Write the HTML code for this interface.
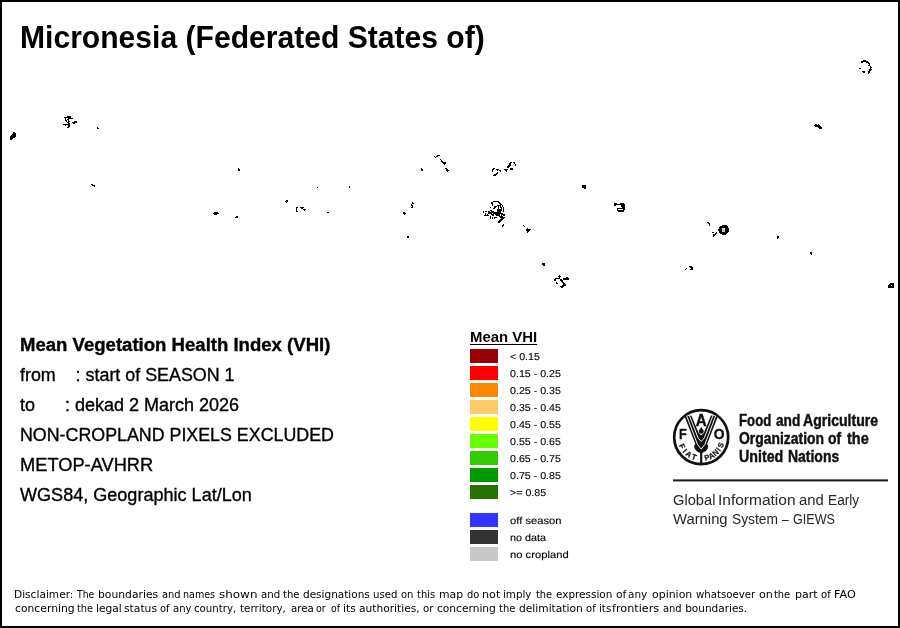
<!DOCTYPE html>
<html lang="en">
<head>
<meta charset="utf-8">
<title>Micronesia (Federated States of) - Mean VHI</title>
<style>
html,body{margin:0;padding:0;background:#fff;}
body{width:900px;height:628px;position:relative;overflow:hidden;font-family:"Liberation Sans",sans-serif;color:#000;}
#frame{position:absolute;left:0;top:0;width:896px;height:624px;border:2px solid #000;}
.t{position:absolute;white-space:nowrap;line-height:1;transform-origin:0 0;}
#title{left:20px;top:21.8px;font-size:31px;font-weight:bold;transform:scaleX(.9705);}
.info{left:20px;font-size:18px;-webkit-text-stroke:0.35px #000;}
#l1{top:335.5px;font-weight:bold;transform:scaleX(1.031);}
#l2{top:365.5px;transform:scaleX(.993);}
#l3{top:395.5px;}
#l4{top:425.5px;transform:scaleX(.99);}
#l5{top:455.5px;transform:scaleX(1.014);}
#l6{top:485.5px;transform:scaleX(1.003);}
#lgt{left:470px;top:330.4px;font-size:14px;font-weight:bold;text-decoration:underline;text-decoration-thickness:1px;text-underline-offset:1.6px;transform:scaleX(1.065);}
.sw{position:absolute;left:470px;width:28px;height:14px;}
.lb{left:509.5px;font-size:10px;transform:scaleX(1.065);margin-top:1.5px;text-rendering:geometricPrecision;-webkit-text-stroke:.12px #000;}
.lb.w{left:509.5px;transform:scaleX(1.122);}
.fao{font-size:16.4px;font-weight:bold;color:#111;-webkit-text-stroke:.45px #111;}
#rule{position:absolute;left:673px;top:479px;width:215px;height:2px;background:#1a1a1a;transform:translateY(.4px);}
.giews{font-size:15.2px;color:#262626;}
.dl{font-family:"DejaVu Sans","Liberation Sans",sans-serif;font-size:10.5px;}
.dl span{display:inline-block;white-space:pre;transform-origin:0 0;vertical-align:top;}
#map{position:absolute;left:0;top:0;}
#logo{position:absolute;left:668px;top:405px;}
</style>
</head>
<body>
<div id="frame"></div>
<svg id="map" width="900" height="320" viewBox="0 0 900 320" shape-rendering="crispEdges"><path fill="#000" d="M863 60h3v1h-3zM861 61h7v1h-7zM861 62h2v1h-2zM866 62h3v1h-3zM868 63h2v1h-2zM869 64h1v1h-1zM868 65h2v1h-2zM870 66h1v1h-1zM870 67h2v1h-2zM859 68h2v1h-2zM870 68h1v1h-1zM869 69h3v1h-3zM869 70h2v1h-2zM862 71h3v1h-3zM868 71h2v1h-2zM863 72h2v1h-2zM868 72h2v1h-2zM868 73h1v1h-1zM67 116h4v1h-4zM64 117h7v1h-7zM65 118h1v1h-1zM68 118h5v1h-5zM65 119h1v1h-1zM67 119h2v1h-2zM65 120h2v1h-2zM68 120h1v1h-1zM66 121h1v1h-1zM68 121h2v1h-2zM74 121h3v1h-3zM67 122h2v1h-2zM72 122h5v1h-5zM68 123h2v1h-2zM73 123h2v1h-2zM63 124h7v1h-7zM815 124h2v1h-2zM818 124h1v1h-1zM65 125h1v1h-1zM68 125h2v1h-2zM814 125h6v1h-6zM68 126h2v1h-2zM815 126h6v1h-6zM67 127h2v1h-2zM97 127h1v1h-1zM818 127h4v1h-4zM97 128h2v1h-2zM819 128h3v1h-3zM13 132h2v1h-2zM13 133h3v1h-3zM12 134h4v1h-4zM11 135h5v1h-5zM10 136h6v1h-6zM10 137h5v1h-5zM10 138h3v1h-3zM10 139h2v1h-2zM437 155h3v1h-3zM434 156h1v1h-1zM436 156h2v1h-2zM435 157h1v1h-1zM440 159h1v1h-1zM441 160h1v1h-1zM441 161h2v1h-2zM442 162h4v1h-4zM510 162h2v1h-2zM513 162h2v1h-2zM443 163h3v1h-3zM509 163h2v1h-2zM514 163h1v1h-1zM444 164h1v1h-1zM509 164h2v1h-2zM515 164h1v1h-1zM508 165h3v1h-3zM515 165h1v1h-1zM507 166h3v1h-3zM507 167h2v1h-2zM238 168h1v1h-1zM421 168h1v1h-1zM445 168h2v1h-2zM493 168h2v1h-2zM510 168h3v1h-3zM238 169h2v1h-2zM421 169h2v1h-2zM446 169h2v1h-2zM492 169h2v1h-2zM496 169h3v1h-3zM504 169h4v1h-4zM510 169h3v1h-3zM238 170h2v1h-2zM421 170h2v1h-2zM446 170h3v1h-3zM492 170h1v1h-1zM497 170h1v1h-1zM499 170h2v1h-2zM505 170h2v1h-2zM447 171h1v1h-1zM492 171h1v1h-1zM500 171h1v1h-1zM506 171h1v1h-1zM497 172h1v1h-1zM496 173h2v1h-2zM494 174h3v1h-3zM493 175h3v1h-3zM91 184h2v1h-2zM92 185h3v1h-3zM582 185h4v1h-4zM94 186h1v1h-1zM349 186h1v1h-1zM582 186h4v1h-4zM317 187h1v1h-1zM349 187h1v1h-1zM582 187h4v1h-4zM584 188h2v1h-2zM286 200h2v1h-2zM285 201h3v1h-3zM493 201h6v1h-6zM286 202h1v1h-1zM412 202h1v1h-1zM491 202h2v1h-2zM498 202h2v1h-2zM412 203h2v1h-2zM491 203h2v1h-2zM499 203h2v1h-2zM614 203h3v1h-3zM620 203h4v1h-4zM411 204h1v1h-1zM492 204h1v1h-1zM500 204h2v1h-2zM614 204h11v1h-11zM411 205h2v1h-2zM492 205h1v1h-1zM497 205h4v1h-4zM502 205h1v1h-1zM614 205h2v1h-2zM621 205h4v1h-4zM412 206h1v1h-1zM494 206h3v1h-3zM498 206h1v1h-1zM500 206h1v1h-1zM502 206h1v1h-1zM621 206h4v1h-4zM296 207h2v1h-2zM300 207h4v1h-4zM411 207h2v1h-2zM490 207h1v1h-1zM494 207h2v1h-2zM498 207h1v1h-1zM500 207h2v1h-2zM503 207h1v1h-1zM622 207h3v1h-3zM296 208h1v1h-1zM301 208h2v1h-2zM493 208h2v1h-2zM498 208h1v1h-1zM501 208h1v1h-1zM503 208h1v1h-1zM617 208h8v1h-8zM296 209h1v1h-1zM303 209h3v1h-3zM497 209h5v1h-5zM503 209h1v1h-1zM617 209h1v1h-1zM623 209h2v1h-2zM296 210h1v1h-1zM304 210h1v1h-1zM490 210h2v1h-2zM497 210h5v1h-5zM503 210h1v1h-1zM617 210h7v1h-7zM296 211h2v1h-2zM483 211h1v1h-1zM485 211h2v1h-2zM488 211h2v1h-2zM491 211h3v1h-3zM497 211h4v1h-4zM503 211h1v1h-1zM618 211h6v1h-6zM214 212h4v1h-4zM327 212h2v1h-2zM403 212h2v1h-2zM483 212h1v1h-1zM488 212h13v1h-13zM213 213h6v1h-6zM403 213h3v1h-3zM485 213h1v1h-1zM488 213h4v1h-4zM493 213h10v1h-10zM214 214h3v1h-3zM404 214h1v1h-1zM485 214h1v1h-1zM487 214h1v1h-1zM491 214h3v1h-3zM495 214h5v1h-5zM501 214h4v1h-4zM484 215h5v1h-5zM492 215h2v1h-2zM496 215h4v1h-4zM501 215h1v1h-1zM503 215h2v1h-2zM236 216h2v1h-2zM490 216h1v1h-1zM499 216h4v1h-4zM235 217h3v1h-3zM490 217h1v1h-1zM492 217h1v1h-1zM494 217h3v1h-3zM500 217h5v1h-5zM490 218h1v1h-1zM492 218h1v1h-1zM494 218h1v1h-1zM501 218h3v1h-3zM500 219h3v1h-3zM499 220h3v1h-3zM498 221h3v1h-3zM498 222h2v1h-2zM707 222h2v1h-2zM708 223h2v1h-2zM503 224h1v1h-1zM709 224h1v1h-1zM502 225h2v1h-2zM523 225h1v1h-1zM709 225h1v1h-1zM722 225h5v1h-5zM502 226h1v1h-1zM524 226h1v1h-1zM720 226h8v1h-8zM719 227h9v1h-9zM527 228h1v1h-1zM719 228h10v1h-10zM526 229h5v1h-5zM718 229h11v1h-11zM526 230h4v1h-4zM718 230h11v1h-11zM527 231h2v1h-2zM719 231h10v1h-10zM527 232h1v1h-1zM712 232h2v1h-2zM716 232h1v1h-1zM719 232h9v1h-9zM715 233h2v1h-2zM720 233h7v1h-7zM713 234h3v1h-3zM722 234h4v1h-4zM713 235h2v1h-2zM407 236h2v1h-2zM713 236h1v1h-1zM777 236h2v1h-2zM407 237h2v1h-2zM777 237h2v1h-2zM777 238h1v1h-1zM810 252h2v1h-2zM810 253h2v1h-2zM811 254h1v1h-1zM542 263h3v1h-3zM542 264h3v1h-3zM543 265h2v1h-2zM689 266h3v1h-3zM690 267h3v1h-3zM686 268h1v1h-1zM691 268h2v1h-2zM685 269h1v1h-1zM690 269h3v1h-3zM559 275h1v1h-1zM558 276h3v1h-3zM559 277h1v1h-1zM566 277h2v1h-2zM555 278h5v1h-5zM563 278h6v1h-6zM554 279h2v1h-2zM560 279h2v1h-2zM563 279h6v1h-6zM554 280h2v1h-2zM560 280h3v1h-3zM561 281h2v1h-2zM556 282h1v1h-1zM562 282h2v1h-2zM556 283h2v1h-2zM563 283h2v1h-2zM890 283h4v1h-4zM563 284h3v1h-3zM889 284h5v1h-5zM562 285h4v1h-4zM888 285h6v1h-6zM560 286h4v1h-4zM888 286h6v1h-6zM561 287h2v1h-2zM888 287h6v1h-6z"/><rect x="722" y="228" width="3" height="4" fill="#c8c8c8"/><rect x="891" y="285" width="1" height="1" fill="#c8c8c8"/></svg>
<div id="title" class="t">Micronesia (Federated States of)</div>

<div id="l1" class="t info">Mean Vegetation Health Index (VHI)</div>
<div id="l2" class="t info">from&nbsp;&nbsp;&nbsp;&nbsp;: start of SEASON 1</div>
<div id="l3" class="t info">to&nbsp;&nbsp;&nbsp;&nbsp;&nbsp;&nbsp;: dekad 2 March 2026</div>
<div id="l4" class="t info">NON-CROPLAND PIXELS EXCLUDED</div>
<div id="l5" class="t info">METOP-AVHRR</div>
<div id="l6" class="t info">WGS84, Geographic Lat/Lon</div>

<div id="lgt" class="t">Mean VHI</div>
<div class="sw" style="top:349px;background:#990000"></div>
<div class="sw" style="top:366px;background:#ff0000"></div>
<div class="sw" style="top:383px;background:#ff8800"></div>
<div class="sw" style="top:400px;background:#ffc868"></div>
<div class="sw" style="top:417px;background:#ffff00"></div>
<div class="sw" style="top:434px;background:#66ff00"></div>
<div class="sw" style="top:451px;background:#33cc00"></div>
<div class="sw" style="top:468px;background:#009900"></div>
<div class="sw" style="top:485px;background:#267300"></div>
<div class="sw" style="top:513px;background:#3333ff"></div>
<div class="sw" style="top:530px;background:#333333"></div>
<div class="sw" style="top:547px;background:#c8c8c8"></div>
<div class="t lb" style="top:351px">&lt; 0.15</div>
<div class="t lb" style="top:368px">0.15 - 0.25</div>
<div class="t lb" style="top:385px">0.25 - 0.35</div>
<div class="t lb" style="top:402px">0.35 - 0.45</div>
<div class="t lb" style="top:419px">0.45 - 0.55</div>
<div class="t lb" style="top:436px">0.55 - 0.65</div>
<div class="t lb" style="top:453px">0.65 - 0.75</div>
<div class="t lb" style="top:470px">0.75 - 0.85</div>
<div class="t lb" style="top:487px">&gt;= 0.85</div>
<div class="t lb w" style="top:515px">off season</div>
<div class="t lb w" style="top:532px;transform:scaleX(1.08)">no data</div>
<div class="t lb w" style="top:549px">no cropland</div>

<div class="t fao" style="left:738.99px;top:412.22px;transform:scaleX(0.8053)">Food</div>
<div class="t fao" style="left:775.68px;top:412.22px;transform:scaleX(0.8364)">and</div>
<div class="t fao" style="left:803.47px;top:412.22px;transform:scaleX(0.8580)">Agriculture</div>
<div class="t fao" style="left:739.16px;top:430.07px;transform:scaleX(0.8487)">Organization</div>
<div class="t fao" style="left:828.46px;top:430.07px;transform:scaleX(0.8475)">of</div>
<div class="t fao" style="left:847.08px;top:430.07px;transform:scaleX(0.8842)">the</div>
<div class="t fao" style="left:738.93px;top:447.92px;transform:scaleX(0.8673)">United</div>
<div class="t fao" style="left:787.75px;top:447.92px;transform:scaleX(0.8513)">Nations</div>
<svg id="logo" width="66" height="66" viewBox="668 405 66 66">
<circle cx="701.2" cy="437.2" r="27" fill="#fff" stroke="#111" stroke-width="2.7"/>
<path fill="#111" d="M684.6,416.4 L696.3,446.4 L701.2,451 L706.1,446.4 L717.8,416.4 L711.0,415.6 L703.7,433.3 L701.2,435.3 L698.7,433.3 L691.4,415.6 Z"/>
<path fill="#111" d="M694.2,446.6 C694.2,443.6 696.5,442.9 701.2,444 C705.9,442.9 708.2,443.6 708.2,446.6 C708.2,450 704.5,452.3 702.3,452.9 L702.3,463.5 L700.1,463.5 L700.1,452.9 C697.9,452.3 694.2,450 694.2,446.6 Z"/>
<path fill="none" stroke="#fff" stroke-width=".95" stroke-linejoin="miter" d="M686.7,415.8 L697.4,444.3 L701.2,449.1 L705.0,444.3 L715.7,415.8"/>
<path fill="none" stroke="#fff" stroke-width=".95" stroke-linejoin="miter" d="M689.4,415.6 L698.0,437.8 L701.2,441.5 L704.4,437.8 L713.0,415.6"/>
<path fill="#111" d="M701.2,426.2 C701.2,428.4 703.7,429.6 703.7,431.2 A2.5,2.5 0 0 1 698.7,431.2 C698.7,429.6 701.2,428.4 701.2,426.2 Z"/>
<g font-family="Liberation Sans, sans-serif" font-weight="bold" fill="#111" stroke="#111" stroke-width=".35">
<text transform="translate(701.2 426.1) scale(.93 1)" font-size="16.2" text-anchor="middle" stroke-width=".5">A</text>
<text transform="translate(682.9 438.5) scale(.84 1)" font-size="15.2" text-anchor="middle">F</text>
<text transform="translate(719.2 438.6) scale(.9 1)" font-size="15.4" text-anchor="middle">O</text>
<g stroke-width=".25">
<text transform="translate(679.70 447.41) rotate(64.6) scale(1.0 1)" font-size="7.6" text-anchor="middle">F</text>
<text transform="translate(683.02 452.56) rotate(49.8) scale(1.0 1)" font-size="7.6" text-anchor="middle">I</text>
<text transform="translate(687.21 456.45) rotate(36.0) scale(1.0 1)" font-size="7.6" text-anchor="middle">A</text>
<text transform="translate(693.18 459.61) rotate(19.7) scale(1.0 1)" font-size="7.6" text-anchor="middle">T</text>
<text transform="translate(707.72 460.09) rotate(-15.9) scale(1.0 1)" font-size="7.6" text-anchor="middle">P</text>
<text transform="translate(712.56 458.12) rotate(-28.5) scale(1.0 1)" font-size="7.6" text-anchor="middle">A</text>
<text transform="translate(717.34 454.69) rotate(-42.7) scale(1.0 1)" font-size="7.6" text-anchor="middle">N</text>
<text transform="translate(720.72 450.82) rotate(-55.1) scale(1.0 1)" font-size="7.6" text-anchor="middle">I</text>
<text transform="translate(723.28 446.08) rotate(-68.1) scale(1.0 1)" font-size="7.6" text-anchor="middle">S</text>
</g>
</g>
</svg>
<div id="rule"></div>
<div class="t giews" style="left:672.57px;top:492.23px;transform:scaleX(0.9667)">Global</div>
<div class="t giews" style="left:718.47px;top:492.23px;transform:scaleX(1.0204)">Information</div>
<div class="t giews" style="left:799.07px;top:492.23px;transform:scaleX(0.9787)">and</div>
<div class="t giews" style="left:827.77px;top:492.23px;transform:scaleX(0.9023)">Early</div>
<div class="t giews" style="left:673.06px;top:511.13px;transform:scaleX(0.9753)">Warning</div>
<div class="t giews" style="left:732.12px;top:511.13px;transform:scaleX(0.9061)">System</div>
<div class="t giews" style="left:782.20px;top:511.13px;transform:scaleX(0.7882)">&ndash;</div>
<div class="t giews" style="left:793.28px;top:511.13px;transform:scaleX(0.8284)">GIEWS</div>

<div id="disc1" class="t dl" style="left:14.49px;top:588.72px"><span style="width:62.51px;transform:scaleX(1.009)">Disclaimer: </span><span style="width:21.27px;transform:scaleX(0.884)">The </span><span style="width:64.02px;transform:scaleX(1.025)">boundaries </span><span style="width:21.10px;transform:scaleX(0.944)">and </span><span style="width:36.04px;transform:scaleX(0.910)">names </span><span style="width:41.14px;transform:scaleX(1.138)">shown </span><span style="width:22.19px;transform:scaleX(0.972)">and </span><span style="width:20.54px;transform:scaleX(0.958)">the </span><span style="width:69.53px;transform:scaleX(0.999)">designations </span><span style="width:27.99px;transform:scaleX(0.968)">used </span><span style="width:16.44px;transform:scaleX(0.953)">on </span><span style="width:21.70px;transform:scaleX(0.946)">this </span><span style="width:28.06px;transform:scaleX(1.034)">map </span><span style="width:14.91px;transform:scaleX(0.942)">do </span><span style="width:21.38px;transform:scaleX(1.062)">not </span><span style="width:32.75px;transform:scaleX(0.982)">imply </span><span style="width:19.74px;transform:scaleX(0.939)">the </span><span style="width:59.98px;transform:scaleX(0.995)">expression </span><span style="width:12.76px;transform:scaleX(1.026)">of </span><span style="width:23.43px;transform:scaleX(0.997)">any </span><span style="width:43.84px;transform:scaleX(1.042)">opinion </span><span style="width:63.65px;transform:scaleX(0.970)">whatsoever </span><span style="width:14.80px;transform:scaleX(1.064)">on </span><span style="width:20.99px;transform:scaleX(0.939)">the </span><span style="width:26.27px;transform:scaleX(1.047)">part </span><span style="width:12.91px;transform:scaleX(0.954)">of </span><span style="width:23.07px;transform:scaleX(1.067)">FAO</span></div>
<div id="disc2" class="t dl" style="left:14.99px;top:602.82px"><span style="width:61.78px;transform:scaleX(1.027)">concerning </span><span style="width:19.72px;transform:scaleX(0.939)">the </span><span style="width:28.00px;transform:scaleX(1.013)">legal </span><span style="width:35.84px;transform:scaleX(1.024)">status </span><span style="width:12.75px;transform:scaleX(0.944)">of </span><span style="width:21.43px;transform:scaleX(0.959)">any </span><span style="width:45.74px;transform:scaleX(0.971)">country, </span><span style="width:50.32px;transform:scaleX(0.989)">territory, </span><span style="width:25.98px;transform:scaleX(0.975)">area </span><span style="width:14.31px;transform:scaleX(0.907)">or </span><span style="width:11.93px;transform:scaleX(0.892)">of </span><span style="width:16.46px;transform:scaleX(1.018)">its </span><span style="width:64.07px;transform:scaleX(1.014)">authorities, </span><span style="width:13.68px;transform:scaleX(0.976)">or </span><span style="width:62.07px;transform:scaleX(1.013)">concerning </span><span style="width:20.43px;transform:scaleX(0.952)">the </span><span style="width:67.03px;transform:scaleX(1.016)">delimitation </span><span style="width:12.50px;transform:scaleX(0.954)">of </span><span style="width:13.21px;transform:scaleX(0.982)">its </span><span style="width:51.36px;transform:scaleX(1.069)">frontiers </span><span style="width:21.71px;transform:scaleX(0.944)">and </span><span style="width:63.00px;transform:scaleX(1.000)">boundaries.</span></div>
</body>
</html>
